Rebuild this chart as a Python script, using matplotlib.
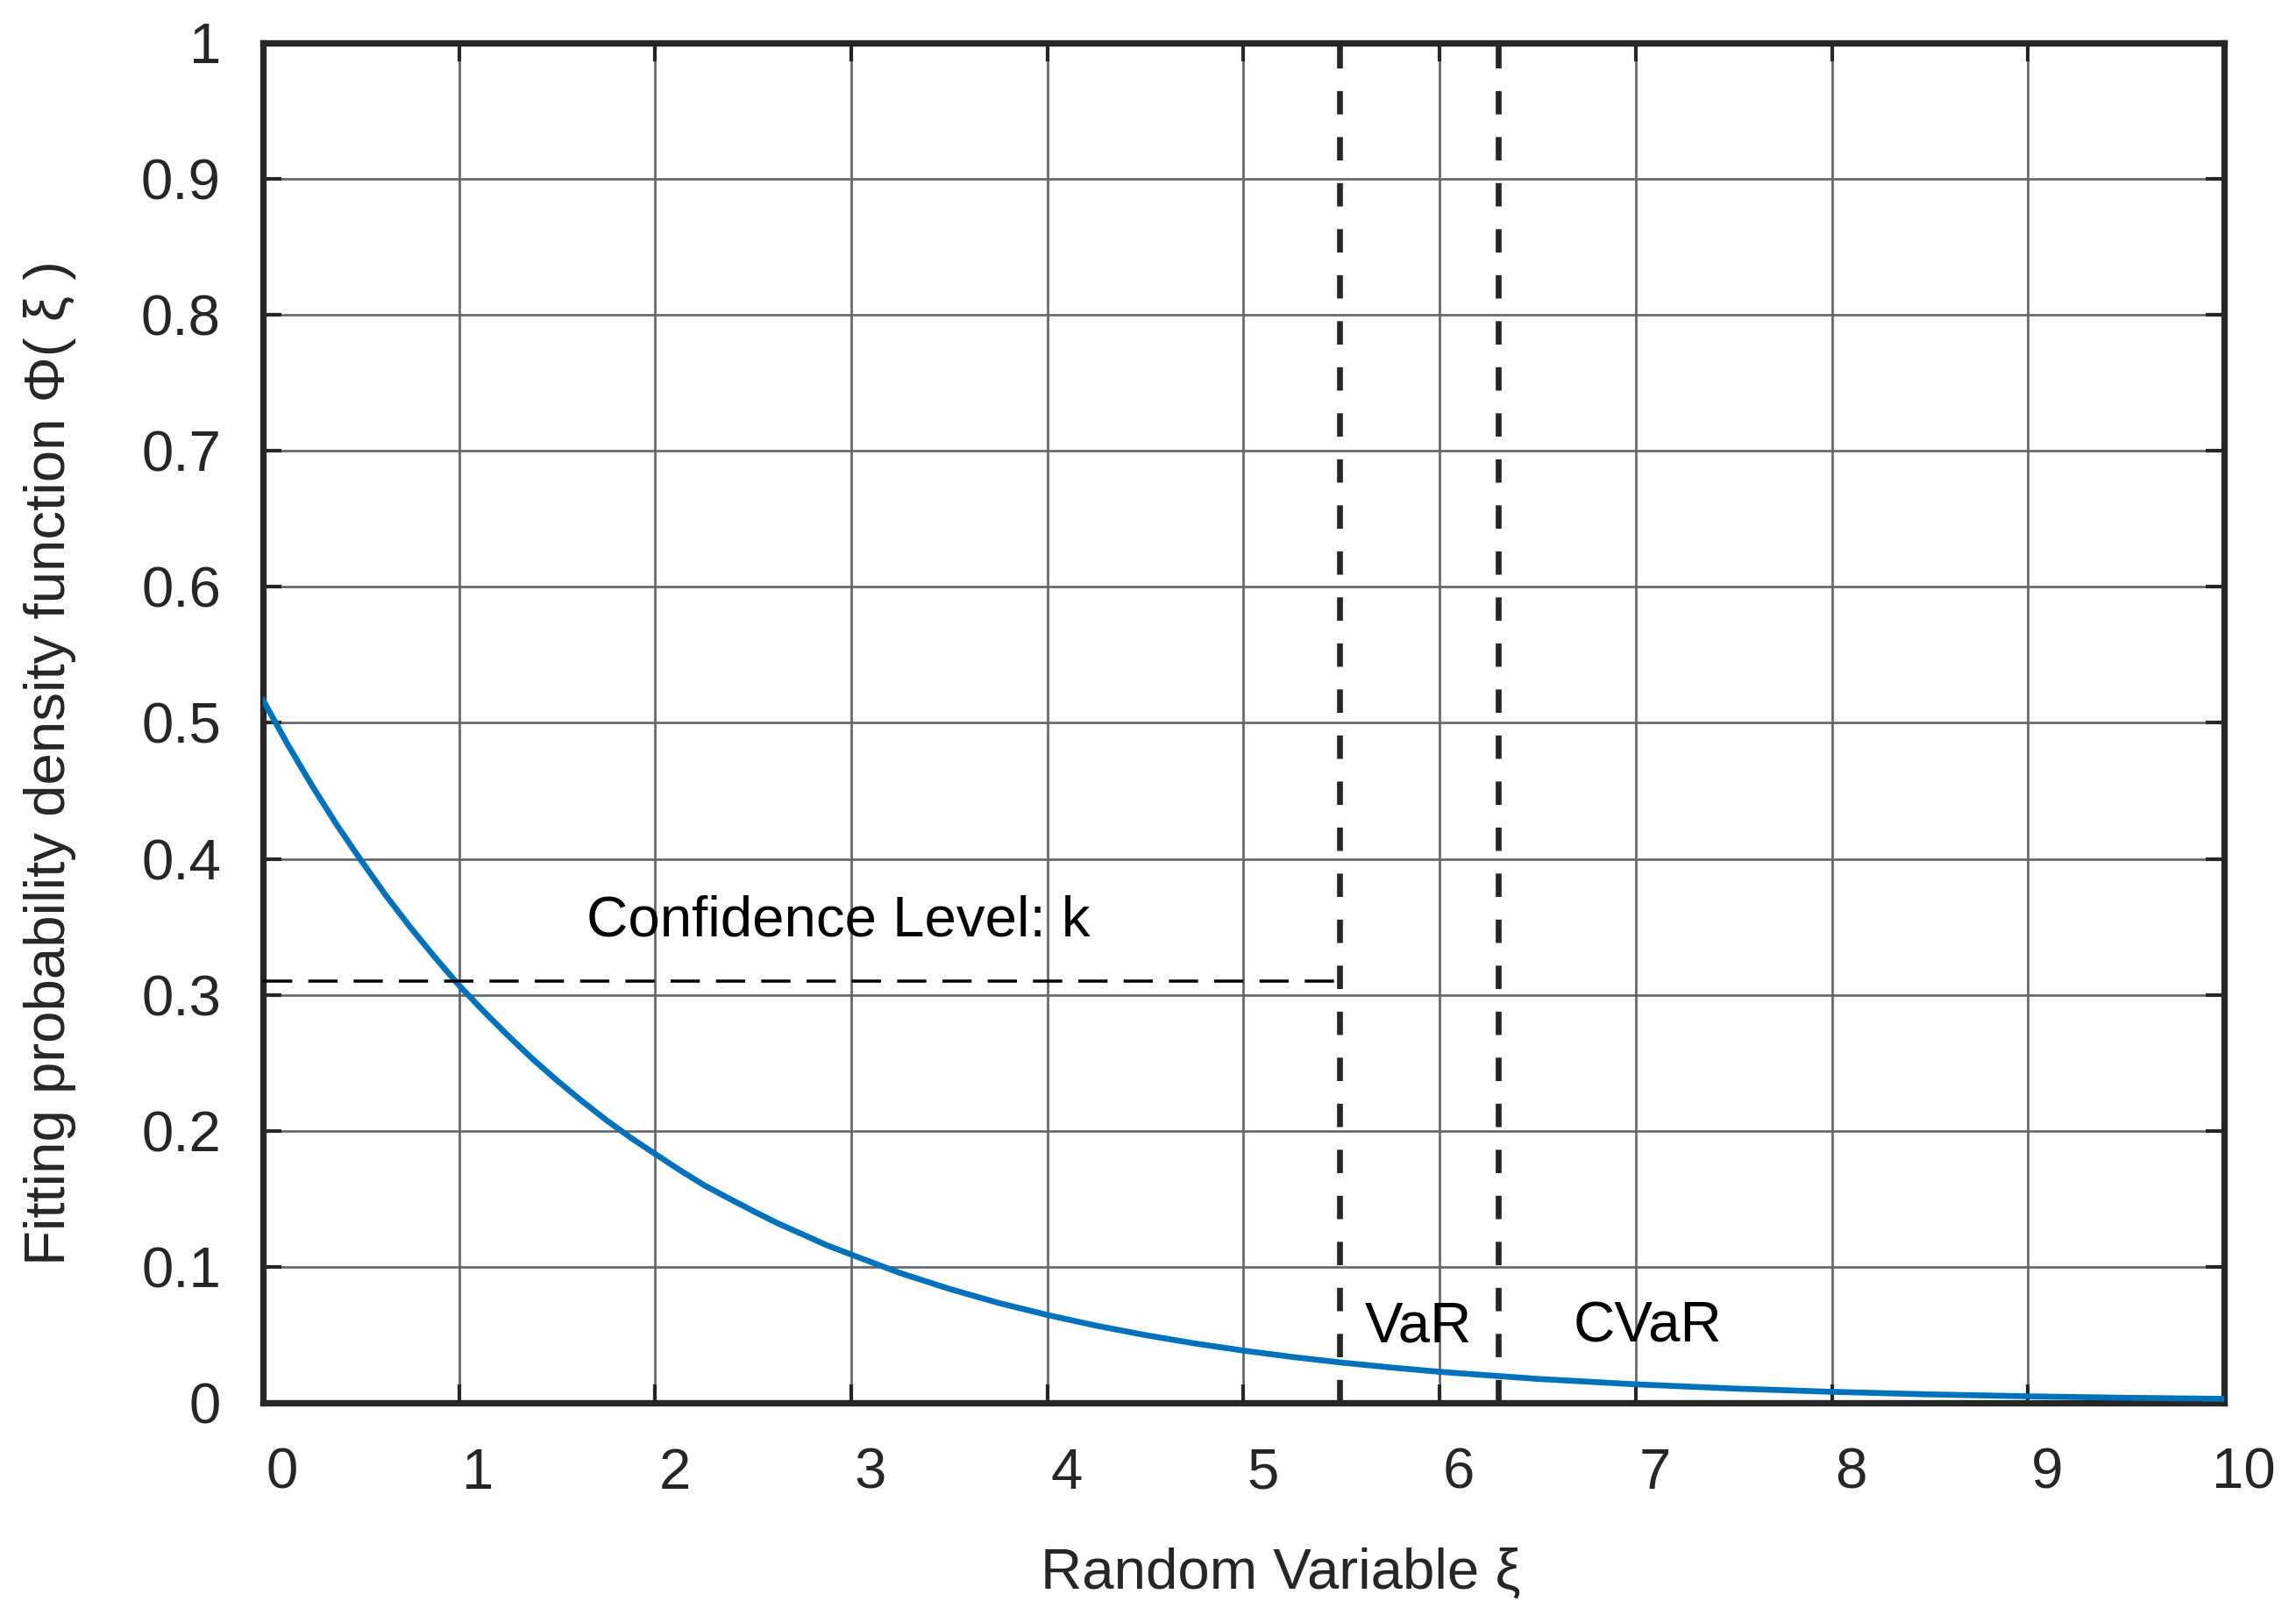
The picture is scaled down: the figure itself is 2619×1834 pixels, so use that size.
import matplotlib
matplotlib.use('Agg')
import matplotlib.pyplot as plt
import matplotlib.transforms as mtransforms

plt.rcParams['font.family'] = ['Liberation Sans', 'DejaVu Sans']
plt.rcParams['lines.scale_dashes'] = False

# fitted pdf
xi = [0, 0.125, 0.25, 0.375, 0.5, 0.625, 0.75, 0.875, 1, 1.125, 1.25, 1.375,
      1.5, 1.625, 1.75, 1.875, 2, 2.125, 2.25, 2.375, 2.5, 2.625, 2.75, 2.875,
      3, 3.25, 3.5, 3.75, 4, 4.25, 4.5, 4.75, 5, 5.25, 5.5, 5.75, 6, 6.5, 7,
      7.5, 8, 8.5, 9, 9.5, 10]
phi = [0.517, 0.4845, 0.454, 0.4254, 0.399, 0.3735, 0.350, 0.328, 0.307,
       0.288, 0.270, 0.2529, 0.237, 0.2221, 0.208, 0.195, 0.183, 0.1712,
       0.160, 0.1504, 0.141, 0.132, 0.124, 0.1159, 0.109, 0.0954, 0.0838,
       0.0735, 0.0646, 0.0567, 0.0498, 0.0437, 0.0384, 0.0337, 0.0296, 0.026,
       0.0228, 0.0176, 0.0136, 0.0105, 0.0081, 0.0062, 0.0048, 0.0037, 0.0029]

var_x = 5.49
cvar_x = 6.30
conf_level = 0.31

x_ticks = list(range(11))
x_tick_labels = [str(v) for v in x_ticks]
y_ticks = [0, 0.1, 0.2, 0.3, 0.4, 0.5, 0.6, 0.7, 0.8, 0.9, 1]
y_tick_labels = ['0', '0.1', '0.2', '0.3', '0.4', '0.5', '0.6', '0.7', '0.8', '0.9', '1']

FS = 15.7
DARK = '#262626'

fig = plt.figure(figsize=(2619 / 300, 1834 / 300), dpi=300)
ax = fig.add_axes([0.1145, 0.1276, 0.8542, 0.8457])

ax.set_xlim(0, 10)
ax.set_ylim(0, 1)
ax.set_xticks(x_ticks, x_tick_labels)
ax.set_yticks(y_ticks, y_tick_labels)
ax.grid(True, color='#666666', lw=0.65)
ax.set_axisbelow(True)

ax.plot(xi, phi, color='#0072BD', lw=1.6, zorder=3, solid_joinstyle='round')
ax.plot([0, var_x], [conf_level, conf_level], color='black', lw=0.85,
        dashes=(8, 4.4), zorder=3)
for xv in (var_x, cvar_x):
    ax.axvline(xv, color=DARK, lw=1.6, dashes=(6.4, 6.2), zorder=3)

ax.text(1.65, 0.343, 'Confidence Level: k', fontsize=FS, color='black', va='baseline')
ax.text(5.62, 0.045, 'VaR', fontsize=FS, color='black', va='baseline')
ax.text(6.68, 0.045, 'CVaR', fontsize=FS, color='black', va='baseline')

for s in ax.spines.values():
    s.set_linewidth(1.75)
    s.set_color(DARK)
ax.tick_params(direction='in', length=5, width=1.0, top=True, right=True,
               labelsize=FS, labelcolor=DARK, color=DARK)
ax.tick_params(axis='x', pad=12.2)
ax.tick_params(axis='y', pad=11.5)

# MATLAB puts the x tick labels a little to the right
shift = mtransforms.ScaledTranslation(5.3 / 72, 0, fig.dpi_scale_trans)
for lab in ax.get_xticklabels():
    lab.set_transform(lab.get_transform() + shift)

ax.set_xlabel('Random Variable ξ', fontsize=FS, color=DARK)
ax.xaxis.set_label_coords(0.519, -0.106)
ax.set_ylabel('Fitting probability density function Φ( ξ )', fontsize=FS, color=DARK)
ax.yaxis.set_label_coords(-0.0952, 0.4707)

fig.savefig('out.png', dpi=300)
